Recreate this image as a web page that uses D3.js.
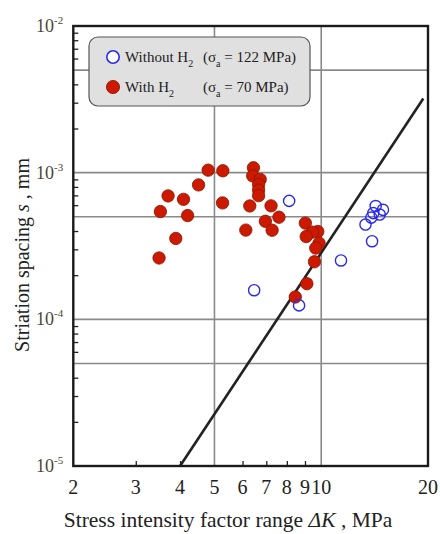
<!DOCTYPE html>
<html>
<head>
<meta charset="utf-8">
<script src="https://cdn.jsdelivr.net/npm/d3@7"></script>
<style>
  body { margin: 0; background: #fff; }
  text { font-family: "Liberation Serif", "DejaVu Serif", serif; }
</style>
</head>
<body>
<div id="chart"></div>
<script>
// striation spacing vs delta K
var withH2K = [4.80, 5.28, 6.44, 6.41, 6.73, 6.66, 6.66, 6.66, 4.51, 3.70, 4.09, 3.52, 4.20, 5.27, 6.29,
  7.22, 7.60, 6.96, 7.27, 6.13, 3.89, 3.49, 9.02, 9.78, 9.44, 9.07, 9.86, 9.65, 9.57, 9.11, 8.45];
var withH2S = [1.04e-3, 1.03e-3, 1.08e-3, 9.5e-4, 9.0e-4, 8.3e-4, 7.6e-4, 6.97e-4, 8.25e-4, 6.94e-4, 6.58e-4,
  5.43e-4, 5.10e-4, 6.22e-4, 5.93e-4, 5.94e-4, 4.97e-4, 4.66e-4, 4.05e-4, 4.06e-4, 3.56e-4, 2.62e-4,
  4.53e-4, 3.97e-4, 3.93e-4, 3.67e-4, 3.31e-4, 3.06e-4, 2.47e-4, 1.75e-4, 1.42e-4];

var withoutH2K = [8.12, 6.47, 8.66, 11.37, 13.33, 13.91, 13.84, 14.24, 14.93, 14.62, 14.02];
var withoutH2S = [6.42e-4, 1.58e-4, 1.245e-4, 2.52e-4, 4.43e-4, 3.41e-4, 4.94e-4, 5.92e-4, 5.58e-4, 5.18e-4, 5.30e-4];

// fitted straight line (two ends)
var lineK = [4.0, 19.4];
var lineS = [1.0e-5, 3.2e-3];

var xTicks = [2, 3, 4, 5, 6, 7, 8, 9, 10, 20];
var xGrid = [5, 10];
var yTicks = [1e-5, 1e-4, 1e-3, 1e-2];
var yTickExp = ["-5", "-4", "-3", "-2"];
var yGrid = [5e-5, 1e-4, 5e-4, 1e-3, 5e-3];

var width = 440, height = 534;
var mLeft = 73.3, mRight = 428, mTop = 26, mBottom = 466;

var svg = d3.select('#chart')
  .append('svg')
  .attr("width", width)
  .attr("height", height)

var x = d3.scaleLog().domain([2, 20]).range([mLeft, mRight]);
var y = d3.scaleLog().domain([1e-5, 1e-2]).range([mBottom, mTop]);

// grid
svg.append('g')
  .selectAll('line')
  .data(xGrid)
  .enter()
  .append('line')
  .attr("x1", function (d) { return x(d); })
  .attr("x2", function (d) { return x(d); })
  .attr("y1", mTop)
  .attr("y2", mBottom)
  .style('stroke', '#8a8a8a')
  .style('stroke-width', 1.6)

svg.append('g')
  .selectAll('line')
  .data(yGrid)
  .enter()
  .append('line')
  .attr("x1", mLeft)
  .attr("x2", mRight)
  .attr("y1", function (d) { return y(d); })
  .attr("y2", function (d) { return y(d); })
  .style('stroke', '#8a8a8a')
  .style('stroke-width', 1.6)

// minor ticks, inside the frame
var yMinor = [];
[1e-5, 1e-4, 1e-3].forEach(function (p) {
  [2, 3, 4, 6, 7, 8, 9].forEach(function (m) { yMinor.push(m * p); });
});
svg.append('g')
  .attr("transform", "translate(" + mLeft + ",0)")
  .call(d3.axisRight(y).tickValues(yMinor).tickSize(5).tickFormat(""))
  .call(function (g) {
    g.select('.domain').remove();
    g.selectAll('line').style('stroke', '#222').style('stroke-width', 1.3);
  })

svg.append('g')
  .attr("transform", "translate(0," + mBottom + ")")
  .call(d3.axisTop(x).tickValues([3, 4, 6, 7, 8, 9]).tickSize(5).tickFormat(""))
  .call(function (g) {
    g.select('.domain').remove();
    g.selectAll('line').style('stroke', '#222').style('stroke-width', 1.3);
  })

// fitted line
var line = d3.line()
  .x(function (d) { return x(d[0]); })
  .y(function (d) { return y(d[1]); })

svg.append('path')
  .datum(d3.zip(lineK, lineS))
  .attr("d", line)
  .style('fill', 'none')
  .style('stroke', '#222')
  .style('stroke-width', 2.6)

// with H2 points
svg.append('g')
  .selectAll('circle')
  .data(d3.zip(withH2K, withH2S))
  .enter()
  .append('circle')
  .attr("cx", function (d) { return x(d[0]); })
  .attr("cy", function (d) { return y(d[1]); })
  .attr('r', 6.2)
  .style('fill', '#cc1a00')
  .style('stroke', '#8a1400')
  .style('stroke-width', 0.8)

// without H2 points
svg.append('g')
  .selectAll('circle')
  .data(d3.zip(withoutH2K, withoutH2S))
  .enter()
  .append('circle')
  .attr("cx", function (d) { return x(d[0]); })
  .attr("cy", function (d) { return y(d[1]); })
  .attr('r', 5.6)
  .style('fill', 'none')
  .style('stroke', '#2a2aee')
  .style('stroke-width', 1.4)

// frame
svg.append('rect')
  .attr("x", mLeft)
  .attr("y", mTop)
  .attr("width", mRight - mLeft)
  .attr("height", mBottom - mTop)
  .style('fill', 'none')
  .style('stroke', '#1a1a1a')
  .style('stroke-width', 2.4)

// x tick labels
svg.append('g')
  .selectAll('text')
  .data(xTicks)
  .enter()
  .append('text')
  .attr("x", function (d) { return x(d); })
  .attr("y", 494)
  .attr("text-anchor", "middle")
  .style('font-size', '20px')
  .style('fill', '#222')
  .text(function (d) { return d; })

// y tick labels 10^n
var yl = svg.append('g')
  .selectAll('text')
  .data(yTicks)
  .enter()
  .append('text')
  .attr("x", 36)
  .attr("y", function (d) { return y(d) + 6; })
  .style('font-size', '18px')
  .style('fill', '#4d4535')
yl.append('tspan').text("10")
yl.append('tspan')
  .attr("dy", -8)
  .style('font-size', '11px')
  .text(function (d, i) { return yTickExp[i]; })

// axis titles
var xt = svg.append('text')
  .attr("x", 228)
  .attr("y", 527)
  .attr("text-anchor", "middle")
  .style('font-size', '21.5px')
  .style('fill', '#222')
xt.append('tspan').text("Stress intensity factor range ")
xt.append('tspan').style('font-style', 'italic').text("ΔK")
xt.append('tspan').text(" , MPa")

var yt = svg.append('text')
  .attr("transform", "translate(29,255) rotate(-90)")
  .attr("text-anchor", "middle")
  .style('font-size', '20px')
  .style('fill', '#222')
yt.append('tspan').text("Striation spacing ")
yt.append('tspan').style('font-style', 'italic').text("s")
yt.append('tspan').text(" , mm")

// legend
var lg = svg.append('g')
lg.append('rect')
  .attr("x", 89)
  .attr("y", 37)
  .attr("width", 221)
  .attr("height", 69)
  .attr("rx", 9)
  .style('fill', '#e0e0e0')
  .style('stroke', '#555')
  .style('stroke-width', 1.2)

lg.append('circle')
  .attr("cx", 113).attr("cy", 57).attr('r', 6.2)
  .style('fill', '#fff')
  .style('stroke', '#2a2aee')
  .style('stroke-width', 1.6)
lg.append('circle')
  .attr("cx", 113).attr("cy", 87).attr('r', 6.6)
  .style('fill', '#cc1a00')
  .style('stroke', '#8a1400')
  .style('stroke-width', 0.8)

function legendText(yy, label, sig) {
  var t = lg.append('text')
    .attr("x", 125)
    .attr("y", yy)
    .style('font-size', '15px')
    .style('fill', '#222')
  t.append('tspan').text(label + " H")
  t.append('tspan').attr("dy", 5).style('font-size', '10px').text("2")
  var t2 = lg.append('text')
    .attr("x", 203)
    .attr("y", yy)
    .style('font-size', '15px')
    .style('fill', '#222')
  t2.append('tspan').text("(σ")
  t2.append('tspan').attr("dy", 5).style('font-size', '10px').text("a")
  t2.append('tspan').attr("dy", -5).text(" = " + sig + " MPa)")
}
legendText(62, "Without", 122)
legendText(92, "With", 70)
</script>
</body>
</html>
